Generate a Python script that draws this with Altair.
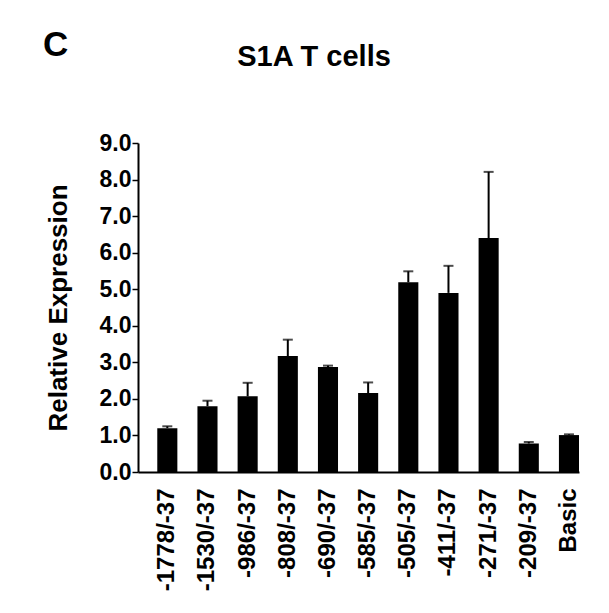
import altair as alt
import pandas as pd

categories = ["-1778/-37", "-1530/-37", "-986/-37", "-808/-37", "-690/-37",
              "-585/-37", "-505/-37", "-411/-37", "-271/-37", "-209/-37", "Basic"]
values = [1.20, 1.80, 2.07, 3.17, 2.87, 2.16, 5.19, 4.90, 6.40, 0.78, 1.01]
upper = [1.25, 1.95, 2.44, 3.62, 2.91, 2.45, 5.49, 5.64, 8.21, 0.82, 1.03]
title_text = "S1A T cells"
panel_letter = "C"
y_title = "Relative Expression"

df = pd.DataFrame({"cat": categories, "val": values, "up": upper})

FONT = "Liberation Sans"

x_axis = alt.Axis(labelAngle=270, ticks=False, labelPadding=16, labelOverlap=False,
                  labelFont=FONT, labelFontSize=24, labelFontWeight="bold",
                  labelColor="black", domainColor="black", domainWidth=2)
y_axis = alt.Axis(values=list(range(10)), format=".1f", grid=False, labelOverlap=False,
                  tickSize=6, tickWidth=1.5, tickColor="black",
                  labelPadding=1, labelFont=FONT, labelFontSize=23,
                  labelFontWeight="bold", labelColor="black",
                  domainColor="black", domainWidth=2,
                  titleFont=FONT, titleFontSize=26, titleFontWeight="bold",
                  titleColor="black", titleX=-72, titleBaseline="alphabetic")

x_enc = alt.X("cat:N", sort=categories, title=None,
              scale=alt.Scale(paddingInner=0.5, paddingOuter=0.24, align=1),
              axis=x_axis)
y_enc = alt.Y("val:Q", title=y_title,
              scale=alt.Scale(domain=[0, 9], nice=False), axis=y_axis)

base = alt.Chart(df)
bars = base.mark_bar(color="black").encode(x=x_enc, y=y_enc)
err = base.mark_rule(color="black", strokeWidth=2).encode(
    x=alt.X("cat:N", sort=categories, title=None, axis=x_axis),
    y=alt.Y("val:Q", title=y_title, axis=y_axis), y2="up:Q")
caps = base.mark_tick(color="black", size=10, thickness=2).encode(
    x=alt.X("cat:N", sort=categories, title=None, axis=x_axis),
    y=alt.Y("up:Q", title=y_title, axis=y_axis))

txt_df = pd.DataFrame({"t": [title_text]})
title_mark = alt.Chart(txt_df).mark_text(
    font=FONT, fontSize=29, fontWeight="bold", color="black",
    align="center", baseline="alphabetic").encode(
    text="t:N", x=alt.value(176), y=alt.value(-77))
letter_df = pd.DataFrame({"t": [panel_letter]})
letter_mark = alt.Chart(letter_df).mark_text(
    font=FONT, fontSize=35, fontWeight="bold", color="black",
    align="left", baseline="alphabetic").encode(
    text="t:N", x=alt.value(-95), y=alt.value(-87))

chart = alt.layer(bars, err, caps, title_mark, letter_mark).properties(
    width=441, height=329,
    background="white",
    autosize=alt.AutoSizeParams(type="none"),
    padding={"left": 130, "top": 135, "right": 22, "bottom": 133},
).configure_view(strokeWidth=0, stroke="transparent")

chart.save("out.html", embed_options={"renderer": "svg", "actions": False})
